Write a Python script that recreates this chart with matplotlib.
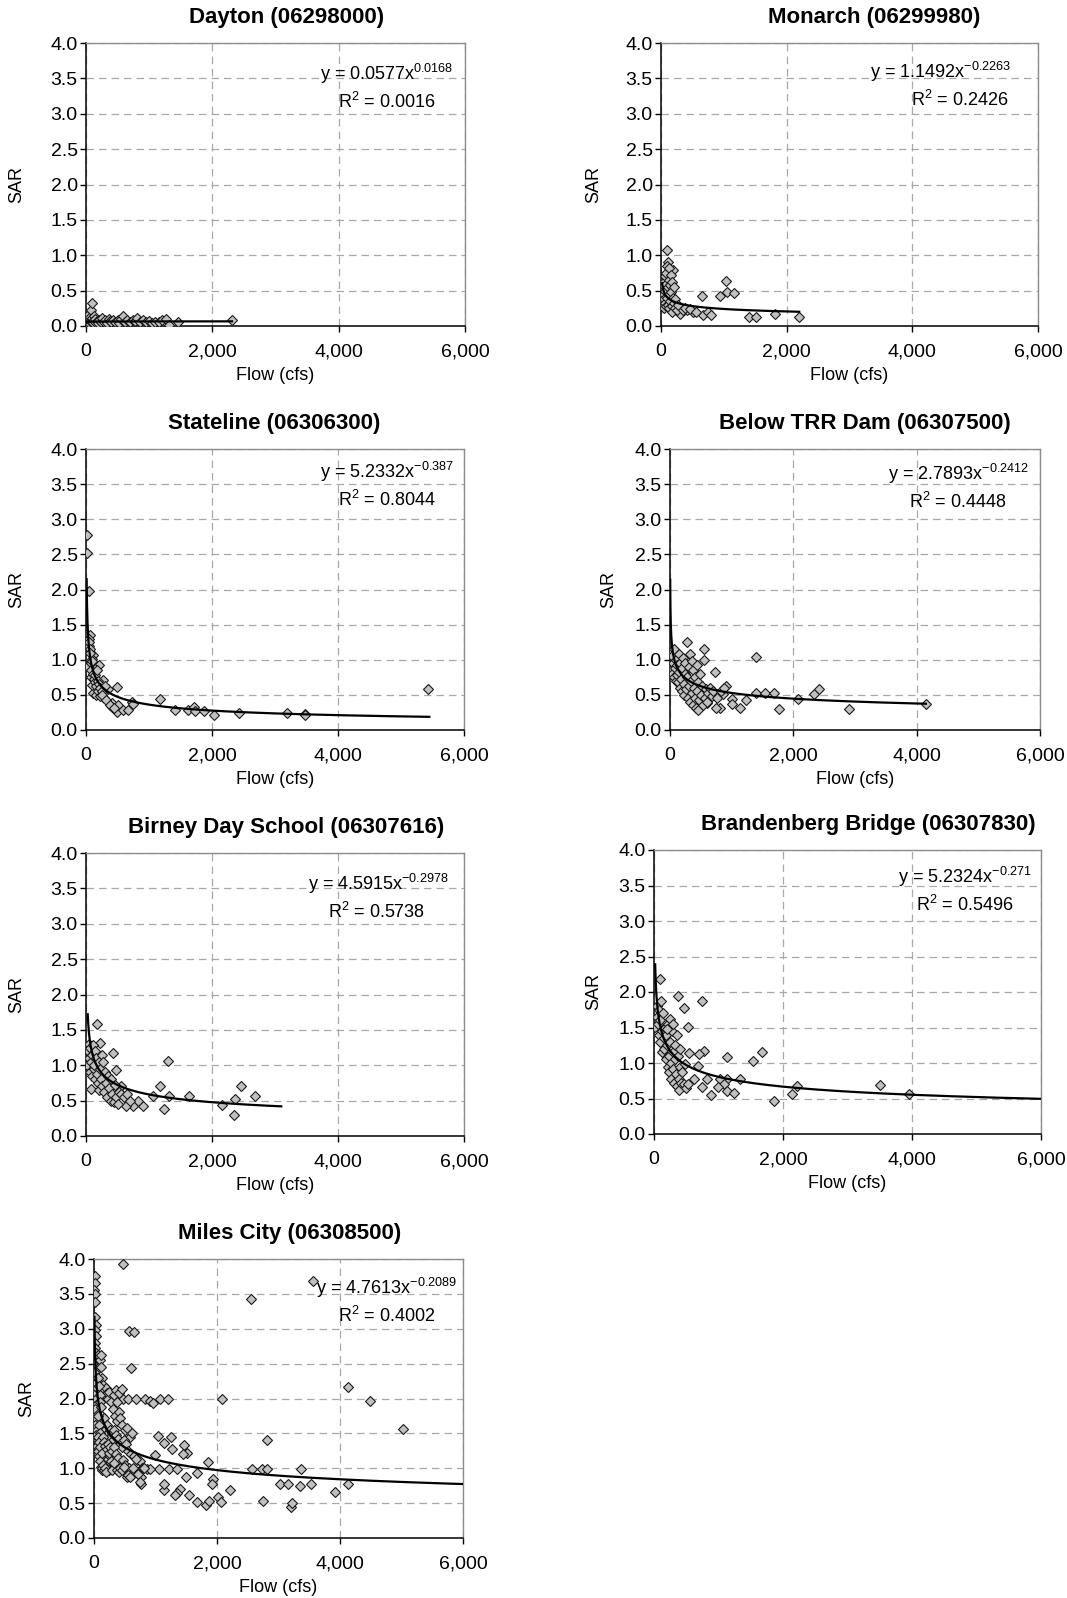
import numpy as np
import matplotlib
matplotlib.use('Agg')
import matplotlib.pyplot as plt
from matplotlib.ticker import FuncFormatter

plt.rcParams['font.family'] = ['Liberation Sans', 'DejaVu Sans']
plt.rcParams['mathtext.fontset'] = 'custom'
plt.rcParams['mathtext.rm'] = 'Liberation Sans'
plt.rcParams['mathtext.it'] = 'Liberation Sans:italic'
plt.rcParams['mathtext.bf'] = 'Liberation Sans:bold'

# ---------------- data ----------------
station_titles = ["Dayton (06298000)", "Monarch (06299980)", "Stateline (06306300)",
                  "Below TRR Dam (06307500)", "Birney Day School (06307616)",
                  "Brandenberg Bridge (06307830)", "Miles City (06308500)"]

fit_a = [0.0577, 1.1492, 5.2332, 2.7893, 4.5915, 5.2324, 4.7613]
fit_b = [0.0168, -0.2263, -0.387, -0.2412, -0.2978, -0.271, -0.2089]
fit_a_text = ["0.0577", "1.1492", "5.2332", "2.7893", "4.5915", "5.2324", "4.7613"]
fit_b_text = ["0.0168", "-0.2263", "-0.387", "-0.2412", "-0.2978", "-0.271", "-0.2089"]
r2_text = ["0.0016", "0.2426", "0.8044", "0.4448", "0.5738", "0.5496", "0.4002"]
fit_xstart = [10, 17, 10, 3, 27, 18, 7]
fit_xend = [2310, 2200, 5450, 4150, 3100, 6000, 6000]

dayton_pts = [(15,0.05),(20,0.12),(25,0.02),(30,0.08),(35,0.15),(40,0.04),(45,0.10),(50,0.06),(55,0.01),(60,0.13),
              (65,0.07),(70,0.03),(75,0.09),(80,0.22),(85,0.05),(90,0.32),(95,0.11),(100,0.06),(110,0.04),(120,0.14),
              (130,0.08),(140,0.05),(150,0.10),(170,0.07),(190,0.04),(210,0.09),(230,0.05),(260,0.12),(280,0.06),(300,0.08),
              (330,0.04),(360,0.10),(380,0.07),(400,0.05),(430,0.09),(460,0.06),(500,0.08),(530,0.04),(560,0.10),(590,0.14),
              (620,0.06),(650,0.08),(700,0.05),(740,0.09),(780,0.07),(800,0.11),(850,0.06),(900,0.08),(950,0.05),(1000,0.07),
              (1050,0.04),(1100,0.06),(1150,0.05),(1200,0.09),(1260,0.10),(1320,0.01),(1450,0.06),(2310,0.085)]

monarch_pts = [(100,1.07),(117,0.91),(196,0.79),(648,0.43),(674,0.15),(754,0.20),(791,0.16),(940,0.43),(1030,0.64),
               (1056,0.485),(1162,0.47),(1406,0.13),(1513,0.13),(1815,0.165),(2202,0.13),(514,0.20),(409,0.225),(302,0.17),
               (10,0.52),(15,0.42),(20,0.35),(25,0.30),(30,0.58),(35,0.27),(40,0.45),(45,0.62),(50,0.38),(55,0.25),
               (60,0.70),(65,0.33),(70,0.50),(75,0.75),(80,0.28),(85,0.60),(90,0.40),(95,0.85),(105,0.55),(110,0.30),
               (120,0.65),(125,0.45),(130,0.82),(135,0.25),(140,0.58),(150,0.35),(155,0.72),(160,0.48),(170,0.28),
               (175,0.62),(180,0.20),(190,0.40),(200,0.55),(210,0.32),(220,0.25),(230,0.38),(250,0.22),(270,0.30),
               (350,0.22),(380,0.25),(460,0.24),(560,0.20)]

stateline_pts = [(11,2.78),(12,2.52),(53,1.98),(10,1.28),(63,1.35),(12,0.91),(487,0.61),(1175,0.44),(1413,0.285),
                 (1624,0.285),(1720,0.33),(1730,0.275),(1878,0.27),(2032,0.22),(2434,0.24),(3196,0.24),(3476,0.23),
                 (3480,0.21),(5423,0.59),(408,0.39),(410,0.33),(487,0.26),(513,0.36),(593,0.285),(672,0.285),(725,0.40),
                 (741,0.37),(354,0.58),(275,0.71),(290,0.45),(212,0.92),(116,0.52),(164,0.50),(90,0.64),(80,0.75),
                 (116,1.07),(132,0.88),(53,1.19),(90,1.01),(40,1.30),(45,1.25),(60,1.15),(70,1.10),(75,0.95),(85,0.85),
                 (100,0.98),(110,0.80),(125,0.72),(140,0.68),(150,0.78),(160,0.62),(175,0.85),(185,0.70),(195,0.55),
                 (200,0.65),(220,0.60),(230,0.48),(250,0.55),(260,0.50),(300,0.62),(320,0.42),(380,0.35),(440,0.32)]

belowtrr_pts = [(5,1.11),(270,1.25),(556,1.15),(556,1.00),(730,0.82),(908,0.63),(1394,1.04),(1394,0.52),(1540,0.52),
                (1686,0.52),(1762,0.30),(2081,0.44),(2334,0.51),(2415,0.59),(2907,0.30),(4150,0.37),(1135,0.32),(1232,0.42),
                (1000,0.44),(1000,0.37),(810,0.32),(746,0.31),(854,0.51),(459,0.31),(594,0.38),
                (10,0.90),(20,0.85),(30,0.80),(40,1.05),(50,0.95),(60,0.75),(70,1.15),(80,0.88),(90,0.70),(100,1.00),
                (110,0.78),(120,0.92),(130,0.68),(140,1.08),(150,0.82),(160,0.60),(170,0.95),(180,0.72),(190,0.55),
                (200,0.88),(210,1.02),(220,0.65),(230,0.50),(240,0.80),(250,0.95),(260,0.58),(280,0.75),(290,0.45),
                (300,0.90),(310,0.62),(320,1.08),(330,0.40),(340,0.70),(350,0.98),(360,0.52),(370,0.35),(380,0.85),
                (390,0.60),(400,0.45),(410,0.75),(420,0.32),(430,0.92),(440,0.55),(450,0.28),(460,0.68),(470,0.42),
                (480,0.80),(500,0.50),(520,0.62),(540,0.36),(560,0.45),(580,0.58),(600,0.40),(620,0.52),(650,0.60),
                (680,0.48),(700,0.55),(760,0.45),(820,0.56),(880,0.60)]

birney_pts = [(170,1.59),(1307,1.06),(1175,0.70),(1238,0.38),(1323,0.565),(1640,0.565),(2164,0.44),(2349,0.29),
              (2365,0.53),(2460,0.70),(2688,0.565),(1069,0.56),(910,0.43),(820,0.50),(741,0.43),(635,0.43),(556,0.70),
              (471,0.93),(434,1.18),(74,0.66),(222,1.32),
              (20,1.00),(30,1.20),(40,1.30),(50,1.10),(60,0.90),(70,1.25),(80,1.05),(90,0.85),(100,1.15),(110,1.28),
              (120,0.95),(130,1.00),(140,0.80),(150,1.20),(160,1.10),(180,0.88),(190,0.75),(200,1.05),(210,0.65),
              (230,0.95),(240,0.80),(250,1.15),(260,0.70),(270,1.05),(280,0.62),(300,0.90),(320,0.75),(330,0.55),
              (350,0.85),(370,0.68),(390,0.50),(400,0.80),(420,0.60),(440,0.48),(460,0.72),(480,0.55),(500,0.45),
              (520,0.62),(560,0.60),(600,0.55),(650,0.60),(700,0.50)]

brandenberg_pts = [(93,2.19),(15,1.51),(377,1.94),(470,1.78),(739,1.88),(532,1.51),(543,1.145),(780,1.17),(700,1.13),
                   (687,0.96),(1127,1.09),(1540,1.03),(1669,1.16),(1333,0.77),(1127,0.78),(1023,0.77),(1085,0.70),
                   (997,0.66),(1127,0.60),(1240,0.58),(884,0.55),(817,0.77),(739,0.66),(620,0.78),(1865,0.465),
                   (2144,0.56),(2212,0.675),(3504,0.69),(3953,0.56),
                   (40,1.80),(50,1.65),(60,1.55),(70,1.75),(80,1.40),(90,1.60),(100,1.30),(110,1.88),(120,1.45),
                   (130,1.15),(140,1.70),(150,1.35),(160,1.20),(170,1.50),(180,1.05),(190,1.40),(200,1.25),(210,0.95),
                   (220,1.55),(230,1.10),(240,0.88),(250,1.30),(260,1.00),(270,0.78),(280,1.45),(290,1.15),(300,0.92),
                   (310,0.72),(320,1.25),(330,1.05),(340,0.85),(350,0.68),(360,1.40),(370,1.10),(380,0.78),(390,0.62),
                   (400,1.20),(410,0.95),(420,0.72),(440,0.88),(460,0.70),(480,0.98),(500,0.65),(520,0.70),(250,1.62),
                   (200,1.48),(300,1.55)]

milescity_pts = [(477,3.93),(3566,3.68),(2548,3.42),(569,2.97),(650,2.95),(601,2.44),(2081,1.99),(4136,2.17),(4488,1.97),
                 (5030,1.56),(2808,1.40),(2569,0.99),(2737,0.99),(2808,0.99),(3366,0.99),(3024,0.78),(3160,0.78),
                 (3350,0.74),(3523,0.78),(3919,0.66),(4136,0.78),(2743,0.535),(3203,0.45),(3225,0.50),(2211,0.69),
                 (2021,0.59),(2060,0.52),(1821,0.47),(1868,0.53),(1680,0.52),(1550,0.61),(1398,0.70),(1344,0.64),
                 (1317,0.61),(1143,0.69),(1143,0.78),(1859,1.09),(1940,0.85),(1913,0.78),(1669,0.93),(1496,0.88),
                 (1463,1.33),(1507,1.22),(1442,1.20),(1252,1.45),(1263,1.28),(1138,1.36),(1046,1.46),(992,1.19),
                 (1062,0.99),(1225,0.99),(1344,0.99),(856,0.99),(911,0.99),(764,0.88),(764,0.78),
                 (260,2.00),(472,1.99),(556,2.00),(688,2.00),(824,1.99),(905,1.96),(959,1.93),(1068,1.99),(1203,1.99),
                 (10,3.75),(15,3.65),(8,3.55),(12,3.50),(20,3.38),(18,3.17),(25,3.05),(10,2.98),(30,2.90),(15,2.80),
                 (22,2.72),(35,2.65),(12,2.60),(28,2.52),(40,2.45),(18,2.38),(45,2.30),(25,2.22),(50,2.15),(8,2.05),
                 (33,2.00),(55,1.92),(20,1.85),(60,1.78),(38,1.70),(14,1.62),(48,1.55),(26,1.48),(58,1.40),(42,1.32),
                 (70,2.62),(85,2.45),(95,2.55),(110,2.62),(120,2.45),(130,2.30),(145,2.20),(160,2.12),(175,2.05),
                 (190,2.15),(210,2.08),(230,2.00),(250,2.10),(270,1.95),(65,2.30),(75,2.18),(90,2.05),(100,1.95),
                 (115,1.88),(125,1.75),(140,1.68),(155,1.60),(170,1.72),(185,1.55),(200,1.48),(215,1.62),(235,1.42),
                 (255,1.55),(275,1.38),(290,1.50),(68,1.75),(80,1.62),(92,1.50),(105,1.42),(118,1.35),(132,1.28),
                 (148,1.20),(165,1.15),(180,1.08),(195,1.02),(212,1.12),(228,1.05),(245,0.98),(262,1.18),(280,1.10),
                 (298,1.25),(72,1.25),(88,1.18),(102,1.10),(112,1.02),(128,0.98),(138,1.00),(152,1.05),(168,0.98),
                 (182,1.00),(198,0.95),(300,0.98),(62,1.45),(78,1.38),(97,1.30),(122,1.22),(142,1.45),(158,1.38),
                 (178,1.32),(205,1.28),(222,1.35),(240,1.22),(258,1.30),(285,1.25),
                 (320,2.05),(350,2.12),(380,1.95),(410,2.08),(450,2.13),(310,1.85),(340,1.75),(370,1.68),(400,1.80),
                 (430,1.72),(460,1.62),(500,1.55),(540,1.58),(580,1.45),(620,1.50),(330,1.55),(360,1.48),(390,1.42),
                 (420,1.35),(450,1.30),(480,1.40),(520,1.35),(560,1.25),(600,1.20),(650,1.18),(700,1.12),(750,1.10),
                 (320,1.30),(355,1.20),(385,1.15),(415,1.05),(440,1.00),(470,1.12),(510,1.05),(540,0.95),(570,1.00),
                 (610,0.90),(660,0.95),(720,0.92),(780,1.00),(330,1.08),(370,0.98),(400,0.95),(430,1.00),(460,0.98),
                 (490,1.02),(530,0.88),(560,0.90),(590,0.88),(640,1.00),(690,1.13),(740,0.80),(800,1.00),(820,1.00)]

station_pts = [dayton_pts, monarch_pts, stateline_pts, belowtrr_pts, birney_pts, brandenberg_pts, milescity_pts]

x_ticks = [0, 2000, 4000, 6000]
y_ticks = [0.0, 0.5, 1.0, 1.5, 2.0, 2.5, 3.0, 3.5, 4.0]

# ---------------- layout (pixels) ----------------
W, H = 1067, 1598
rects = [(86, 43, 465, 326), (661, 43, 1038, 326), (86, 449, 464, 730), (670, 449, 1040, 730),
         (86, 853, 464, 1136), (654, 850, 1041, 1134), (94, 1259, 463, 1538)]
title_cx = [287, 874, 274, 865, 286, 868, 290]
ylab_off = [69, 67, 69, 61, 69, 60, 67]
eq_pos = [(387, 73, 387, 101), (941, 72, 960, 99), (387, 472, 387, 500), (959, 474, 958, 502),
          (378, 883, 377, 911), (965, 877, 965, 904), (387, 1287, 387, 1315)]

fig = plt.figure(figsize=(W / 100, H / 100), dpi=100)
fig.patch.set_facecolor('white')

def fx(px):
    return px / W

def fy(py):
    return 1 - py / H

FS = 13
TFS = 14
for i in range(7):
    l, t, r, b = rects[i]
    ax = fig.add_axes([fx(l), fy(b), (r - l) / W, (b - t) / H])
    pts = station_pts[i]
    xs = [p[0] for p in pts]
    ys = [p[1] for p in pts]
    ax.set_axisbelow(True)
    ax.plot(xs, ys, linestyle='none', marker='D', ms=4.6, mfc='#c0c0c0',
            mec='#1a1a1a', mew=0.8, zorder=3)
    xf = np.geomspace(fit_xstart[i], fit_xend[i], 400)
    ax.plot(xf, fit_a[i] * xf ** fit_b[i], color='black', lw=1.6, zorder=4, clip_on=True)
    ax.set_xlim(0, 6000)
    ax.set_ylim(0, 4.0)
    ax.set_xticks(x_ticks)
    ax.set_yticks(y_ticks)
    ax.xaxis.set_major_formatter(FuncFormatter(lambda v, p: f"{v:,.0f}"))
    ax.yaxis.set_major_formatter(FuncFormatter(lambda v, p: f"{v:.1f}"))
    ax.grid(True, color='#a8a8a8', linestyle=(0, (6, 4)), linewidth=0.9)
    for s in ['left', 'bottom']:
        ax.spines[s].set_color('black')
        ax.spines[s].set_linewidth(1.1)
    for s in ['top', 'right']:
        ax.spines[s].set_color('#8c8c8c')
        ax.spines[s].set_linewidth(1.0)
    ax.tick_params(axis='both', direction='out', length=4.5, width=1, labelsize=TFS, color='black')
    ax.tick_params(axis='x', pad=8)
    ax.tick_params(axis='y', pad=1.5)
    # title
    fig.text(fx(title_cx[i]), fy(t - 20), station_titles[i], ha='center', va='baseline',
             fontsize=16, fontweight='bold')
    # axis labels
    fig.text(fx((l + r) / 2), fy(b + 47 + 6.5), "Flow (cfs)", ha='center', va='baseline', fontsize=FS)
    fig.text(fx(l - ylab_off[i]), fy((t + b) / 2), "SAR", ha='center', va='center',
             rotation=90, fontsize=FS)
    # equation
    x1, y1, x2, y2 = eq_pos[i]
    fig.text(fx(x1), fy(y1 + 6.5), r"y = " + fit_a_text[i] + r"x$^{\mathrm{" + fit_b_text[i] + r"}}$",
             ha='center', va='baseline', fontsize=FS)
    fig.text(fx(x2), fy(y2 + 6.5), r"R$^{\mathrm{2}}$ = " + r2_text[i],
             ha='center', va='baseline', fontsize=FS)

fig.savefig('out.png', dpi=100, facecolor='white')
